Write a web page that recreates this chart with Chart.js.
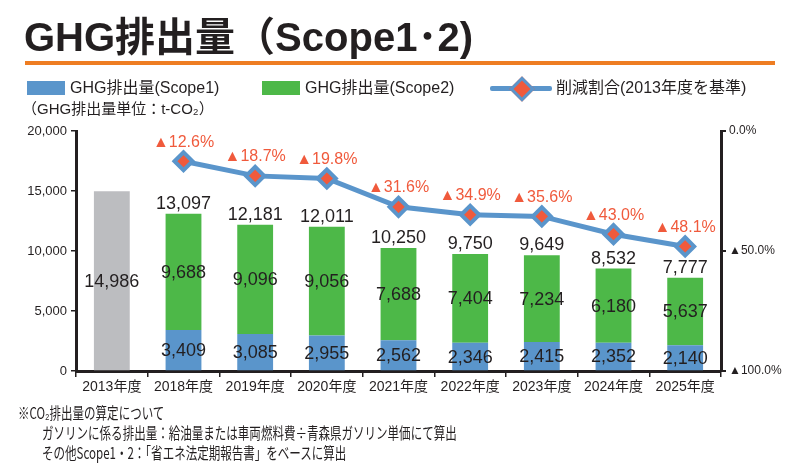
<!DOCTYPE html>
<html lang="ja">
<head>
<meta charset="utf-8">
<script src="https://cdn.jsdelivr.net/npm/chart.js@4"></script>
<style>
  html, body { margin: 0; padding: 0; background: #fff; }
  body { width: 790px; height: 476px; position: relative; overflow: hidden;
         font-family: "Liberation Sans", "Noto Sans CJK JP", sans-serif; color: #231f20; }
  #chart { position: absolute; left: 0; top: 0; }
  .txt { position: absolute; white-space: nowrap; z-index: 2; }
  #title { left: 24px; top: 5px; font-size: 40px; font-weight: bold; }
  #rule { position: absolute; left: 25px; top: 61px; width: 750px; height: 4px; background: #ee7d22; }
  .legend { top: 78px; font-size: 16px; line-height: 20px; display: flex; align-items: center; }
  .sw { display: inline-block; width: 38px; height: 14px; margin-right: 5px; }
  .lineSym { position: relative; display: inline-block; width: 62px; height: 20px; margin-right: 4px; }
  .lineSym::before { content: ""; position: absolute; left: 0; right: 0; top: 8px; height: 5px; background: #5a95cb; border-radius: 2px; }
  .lineSym i { position: absolute; left: 23px; top: 2px; width: 12px; height: 12px; background: #f05a3c;
               border: 3px solid #5a95cb; transform: rotate(45deg); }
  #unit { left: 22px; top: 97px; font-size: 15px; }
  .note { left: 18px; font-size: 16px; font-family: "Noto Sans CJK JP", sans-serif;
          transform: scaleX(0.72); transform-origin: left center; line-height: 20px; }
  .note.ind { left: 42px; }
</style>
</head>
<body>
<div id="title" class="txt">GHG排出量（Scope1･2)</div>
<div id="rule"></div>
<div class="txt legend" style="left:27px"><span class="sw" style="background:#5a95cb"></span>GHG排出量(Scope1)</div>
<div class="txt legend" style="left:262px"><span class="sw" style="background:#4db848"></span>GHG排出量(Scope2)</div>
<div class="txt legend" style="left:490px"><span class="lineSym"><i></i></span>削減割合(2013年度を基準)</div>
<div id="unit" class="txt">（GHG排出量単位：t-CO₂）</div>
<div class="txt note" style="top:402px">※CO₂排出量の算定について</div>
<div class="txt note ind" style="top:422px">ガソリンに係る排出量：給油量または車両燃料費÷青森県ガソリン単価にて算出</div>
<div class="txt note ind" style="top:442px">その他Scope1・2：「省エネ法定期報告書」をベースに算出</div>
<canvas id="chart" width="790" height="476"></canvas>
<script>
const years = ['2013年度', '2018年度', '2019年度', '2020年度', '2021年度', '2022年度', '2023年度', '2024年度', '2025年度'];
const baseYear = [14986, null, null, null, null, null, null, null, null];
const scope1 = [null, 3409, 3085, 2955, 2562, 2346, 2415, 2352, 2140];
const scope2 = [null, 9688, 9096, 9056, 7688, 7404, 7234, 6180, 5637];
const totals = [null, 13097, 12181, 12011, 10250, 9750, 9649, 8532, 7777];
const cutRate = [null, 12.6, 18.7, 19.8, 31.6, 34.9, 35.6, 43.0, 48.1];
const leftTicks = [0, 5000, 10000, 15000, 20000];
const rightTicks = [0, 50, 100];

const INK = '#231f20';
const BLUE = '#5a95cb';
const GREEN = '#4db848';
const GREY = '#bcbdc0';
const RED = '#f05a3c';
const FONT = '"Liberation Sans", "Noto Sans CJK JP", sans-serif';

const fmt = v => v.toLocaleString('en-US');

// value labels drawn on top of the bars and markers
const valueLabels = {
  id: 'valueLabels',
  afterDatasetsDraw(chart) {
    const ctx = chart.ctx;
    ctx.save();
    ctx.textAlign = 'center';
    ctx.font = '18px ' + FONT;
    ctx.fillStyle = INK;
    [1, 2, 3].forEach(di => {
      const meta = chart.getDatasetMeta(di);
      const vals = chart.data.datasets[di].data;
      meta.data.forEach((bar, i) => {
        if (vals[i] == null) return;
        ctx.textBaseline = 'middle';
        ctx.fillText(fmt(vals[i]), bar.x, (bar.y + bar.base) / 2 + 1);
      });
    });
    // totals above the stacks
    const top = chart.getDatasetMeta(3);
    top.data.forEach((bar, i) => {
      if (totals[i] == null) return;
      ctx.textBaseline = 'bottom';
      ctx.fillText(fmt(totals[i]), bar.x, bar.y - 1);
    });
    // reduction rate labels above the line markers
    ctx.font = '16px ' + FONT;
    ctx.fillStyle = RED;
    chart.getDatasetMeta(0).data.forEach((pt, i) => {
      if (cutRate[i] == null) return;
      ctx.textBaseline = 'bottom';
      ctx.fillText('▲' + cutRate[i].toFixed(1) + '%', pt.x, pt.y - 11);
    });
    ctx.restore();
  }
};

new Chart(document.getElementById('chart'), {
  type: 'bar',
  data: {
    labels: years,
    datasets: [
      {
        type: 'line',
        data: cutRate,
        yAxisID: 'yPct',
        borderColor: BLUE,
        borderWidth: 5,
        pointStyle: 'rectRot',
        pointRadius: 9,
        pointBorderWidth: 4,
        pointBorderColor: BLUE,
        pointBackgroundColor: RED,
        tension: 0,
        order: 0,
      },
      { data: baseYear, backgroundColor: GREY, stack: 's', order: 1 },
      { data: scope1, backgroundColor: BLUE, stack: 's', order: 1 },
      { data: scope2, backgroundColor: GREEN, stack: 's', order: 1 },
    ],
  },
  options: {
    responsive: false,
    animation: false,
    devicePixelRatio: 1,
    layout: { padding: { left: 0, right: 0, top: 131, bottom: 70 } },
    categoryPercentage: 1,
    barPercentage: 0.5,
    plugins: { legend: { display: false }, tooltip: { enabled: false } },
    scales: {
      x: {
        stacked: true,
        afterFit: s => { s.height = 35; },
        grid: { drawOnChartArea: false, offset: true, tickLength: 6, color: INK, lineWidth: 1.5 },
        border: { color: INK, width: 3 },
        ticks: { color: INK, font: { size: 14, family: FONT }, padding: 2 },
      },
      y: {
        stacked: true,
        min: 0,
        max: 20000,
        afterFit: s => { s.width = 76; },
        afterBuildTicks: s => { s.ticks = leftTicks.map(v => ({ value: v })); },
        grid: { drawOnChartArea: false, tickLength: 5, color: INK, lineWidth: 1.5 },
        border: { color: INK, width: 3 },
        ticks: { color: INK, font: { size: 13, family: FONT }, padding: 4, callback: v => fmt(v) },
      },
      yPct: {
        position: 'right',
        min: 0,
        max: 100,
        reverse: true,
        afterFit: s => { s.width = 69; },
        afterBuildTicks: s => { s.ticks = rightTicks.map(v => ({ value: v })); },
        grid: { drawOnChartArea: false, tickLength: 5, color: INK, lineWidth: 2 },
        border: { color: INK, width: 3 },
        ticks: {
          color: INK,
          font: { size: 12, family: FONT },
          padding: 3,
          callback: v => (v === 0 ? '0.0%' : '▲' + v.toFixed(1) + '%'),
        },
      },
    },
  },
  plugins: [valueLabels],
});
</script>
</body>
</html>
